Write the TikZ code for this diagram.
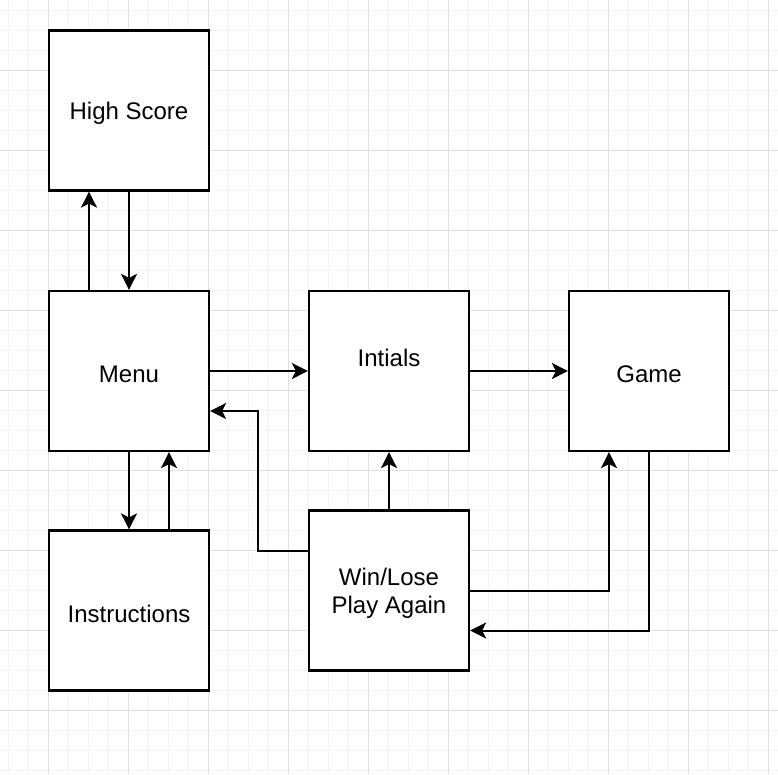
\documentclass[tikz,border=0pt]{standalone}
\usepackage{fontspec}
\setmainfont{Liberation Sans}
\usetikzlibrary{arrows.meta}
\definecolor{gridminor}{HTML}{F4F4F4}
\definecolor{gridmajor}{HTML}{E0E0E0}
\begin{document}
\begin{tikzpicture}[x=1pt,y=-1pt,
  box/.style={draw=black,line width=2.2pt,fill=white,minimum width=160pt,minimum height=160pt,inner sep=0pt},
  txt/.style={font=\fontsize{24pt}{28pt}\selectfont,align=center,inner sep=0pt,yshift=-3pt},
  arr/.style={line width=2pt,-{Stealth[length=16pt,width=16pt,inset=4pt]}}]
\useasboundingbox[fill=white] (0,0) rectangle (778,774);
\foreach \x in {8,28,...,778} \draw[gridminor,line width=1pt] (\x,0) -- (\x,774);
\foreach \y in {10,30,...,774} \draw[gridminor,line width=1pt] (0,\y) -- (778,\y);
\foreach \x in {48,128,...,778} \draw[gridmajor,line width=1pt] (\x,0) -- (\x,774);
\foreach \y in {70,150,...,774} \draw[gridmajor,line width=1pt] (0,\y) -- (778,\y);

\node[box,label={[txt]center:High Score}] (hs) at (129,110.5) {};
\node[box,label={[txt]center:Menu}] (menu) at (129,371) {};
\node[box,label={[txt]center:Instructions}] (ins) at (129,610.5) {};
\node[box,label={[txt,yshift=16pt]center:Intials}] (ini) at (389,371) {};
\node[box,label={[txt]center:Win/Lose\\Play Again}] (win) at (389,590.5) {};
\node[box,label={[txt]center:Game}] (game) at (649,371) {};

\draw[arr] ([xshift=-40pt]menu.north) -- ([xshift=-40pt]hs.south);
\draw[arr] (hs.south) -- (menu.north);
\draw[arr] (menu.south) -- (ins.north);
\draw[arr] ([xshift=40pt]ins.north) -- ([xshift=40pt]menu.south);
\draw[arr] (menu.east) -- (ini.west);
\draw[arr] (ini.east) -- (game.west);
\draw[arr] ([yshift=40pt]win.west) -- ++(-50,0) |- ([yshift=-40pt]menu.east);
\draw[arr] (win.north) -- (ini.south);
\draw[arr] (win.east) -| ([xshift=-40pt]game.south);
\draw[arr] (game.south) |- ([yshift=-40pt]win.east);
\end{tikzpicture}
\end{document}
